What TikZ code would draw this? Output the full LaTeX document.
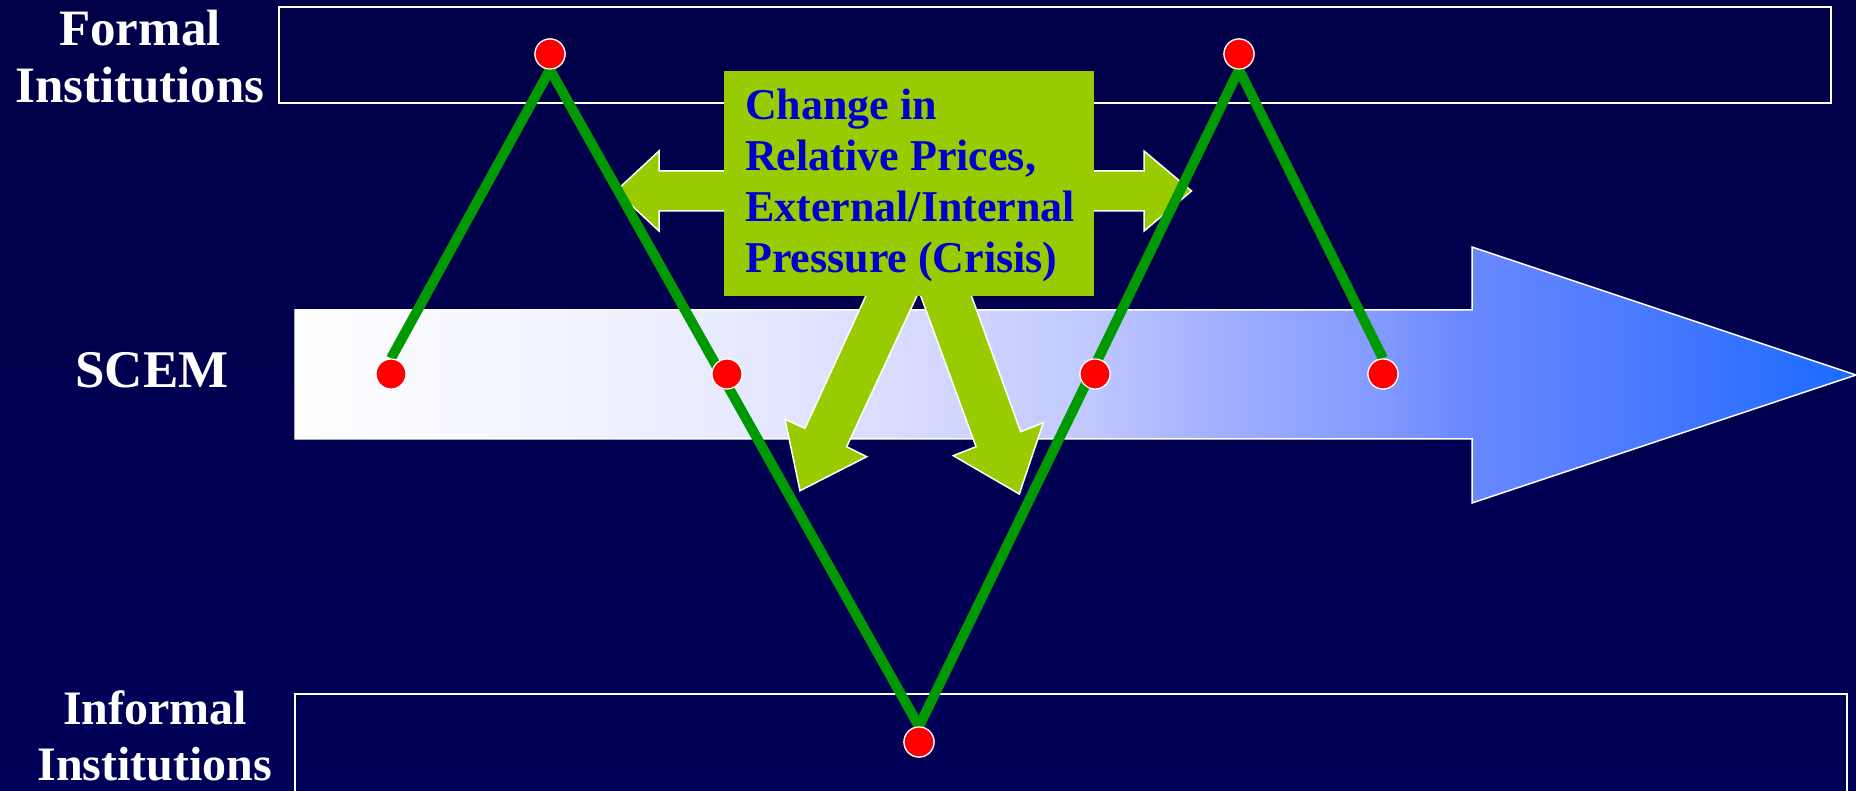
\documentclass[tikz,border=0pt]{standalone}
\usepackage{fontspec}
\setmainfont{Liberation Serif}
\usetikzlibrary{positioning}
\definecolor{bgtop}{RGB}{0,0,72}
\definecolor{bgmid}{RGB}{0,0,50}
\definecolor{bgbot}{RGB}{0,0,88}
\definecolor{boxgreen}{RGB}{153,204,0}
\definecolor{txtblue}{RGB}{0,0,204}
\definecolor{linegreen}{RGB}{0,153,0}
\definecolor{bla}{RGB}{232,235,255}
\definecolor{blb}{RGB}{214,218,255}
\definecolor{blc}{RGB}{192,200,255}
\definecolor{bld}{RGB}{165,178,255}
\definecolor{ble}{RGB}{128,152,255}
\definecolor{blf}{RGB}{106,136,255}
\definecolor{blg}{RGB}{72,120,255}
\definecolor{blh}{RGB}{26,106,255}
\pgfdeclarehorizontalshading{bluearrow}{100bp}{color(0bp)=(white); color(25bp)=(white); color(39bp)=(bla); color(45bp)=(blb); color(50.5bp)=(blc); color(54bp)=(bld); color(60bp)=(ble); color(62.5bp)=(blf); color(68.5bp)=(blg); color(75bp)=(blh); color(100bp)=(blh)}
\tikzset{
  frame/.style={draw=white, line width=2pt},
  greenarrow/.style={fill=boxgreen, draw=white, line width=1.5pt, line join=miter},
  dot/.style={circle, fill=red, draw=white, line width=1.2pt, minimum size=30pt, inner sep=0pt},
  zigzag/.style={draw=linegreen, line width=10pt, line join=miter},
  sidelbl/.style={text=white, font=\bfseries, inner sep=0pt},
  crisistxt/.style={text=txtblue, font=\fontsize{44}{51}\selectfont\bfseries, inner sep=0pt, align=left}
}
\begin{document}
\begin{tikzpicture}[x=1pt, y=-1pt]
\useasboundingbox (0,0) rectangle (1856,791);
% background
\shade[top color=bgtop, middle color=bgmid, bottom color=bgbot] (0,0) rectangle (1856,791);
% institution frames
\draw[frame] (279,7) rectangle (1831,103);
\draw[frame] (295,791) -- (295,694) -- (1847,694) -- (1847,791);
% big SCEM arrow
\shade[shading=bluearrow, draw=white, line width=1.5pt]
  (295,310) -- (1472,310) -- (1472,247) -- (1856,375) -- (1472,503) -- (1472,439) -- (295,439) -- cycle;
% green arrows
\draw[greenarrow] (740,171) -- (659,171) -- (659,151) -- (616,191) -- (659,231) -- (659,211) -- (740,211) -- cycle;
\draw[greenarrow] (1080,171) -- (1144,171) -- (1144,151) -- (1191.5,191) -- (1144,231) -- (1144,211) -- (1080,211) -- cycle;
\draw[greenarrow] (886.9,250) -- (938.3,250) -- (846.7,446.7) -- (866.7,456.7) -- (800,490.7) -- (785,419.3) -- (805,428.3) -- cycle;
\draw[greenarrow] (903.9,250) -- (954.8,250) -- (1020.7,431.7) -- (1043.3,422.7) -- (1019.3,494) -- (953.3,455.7) -- (976,446.7) -- cycle;
% box
\fill[boxgreen] (724,71) rectangle (1094,296);
\node[crisistxt, anchor=west] (crisis) at (745,185.5) {Change in\\Relative Prices,\\External/Internal\\Pressure (Crisis)};
% dots (positions)
\node[dot] (d1) at (391,374) {};
\node[dot] (d2) at (550,54) {};
\node[dot] (d3) at (727,374) {};
\node[dot] (d4) at (919,742) {};
\node[dot] (d5) at (1095,374) {};
\node[dot] (d6) at (1239,54) {};
\node[dot] (d7) at (1383,374) {};
% zigzag line
\draw[zigzag] (d1.north) -- (d2.south) -- (d4.north) -- (d6.south) -- (d7.north);
% redraw dots on top
\foreach \p in {d1,d2,d3,d4,d5,d6,d7} {\node[dot] at (\p) {};}
% labels
\node[sidelbl, align=center, font=\fontsize{51}{57}\selectfont\bfseries] (formal) at (140,57) {Formal\\Institutions};
\node[sidelbl, anchor=base, font=\fontsize{53}{60}\selectfont\bfseries] (scem) at (152,388) {SCEM};
\node[sidelbl, align=center, font=\fontsize{48}{56}\selectfont\bfseries] (informal) at (155,736) {Informal\\Institutions};
\end{tikzpicture}
\end{document}
